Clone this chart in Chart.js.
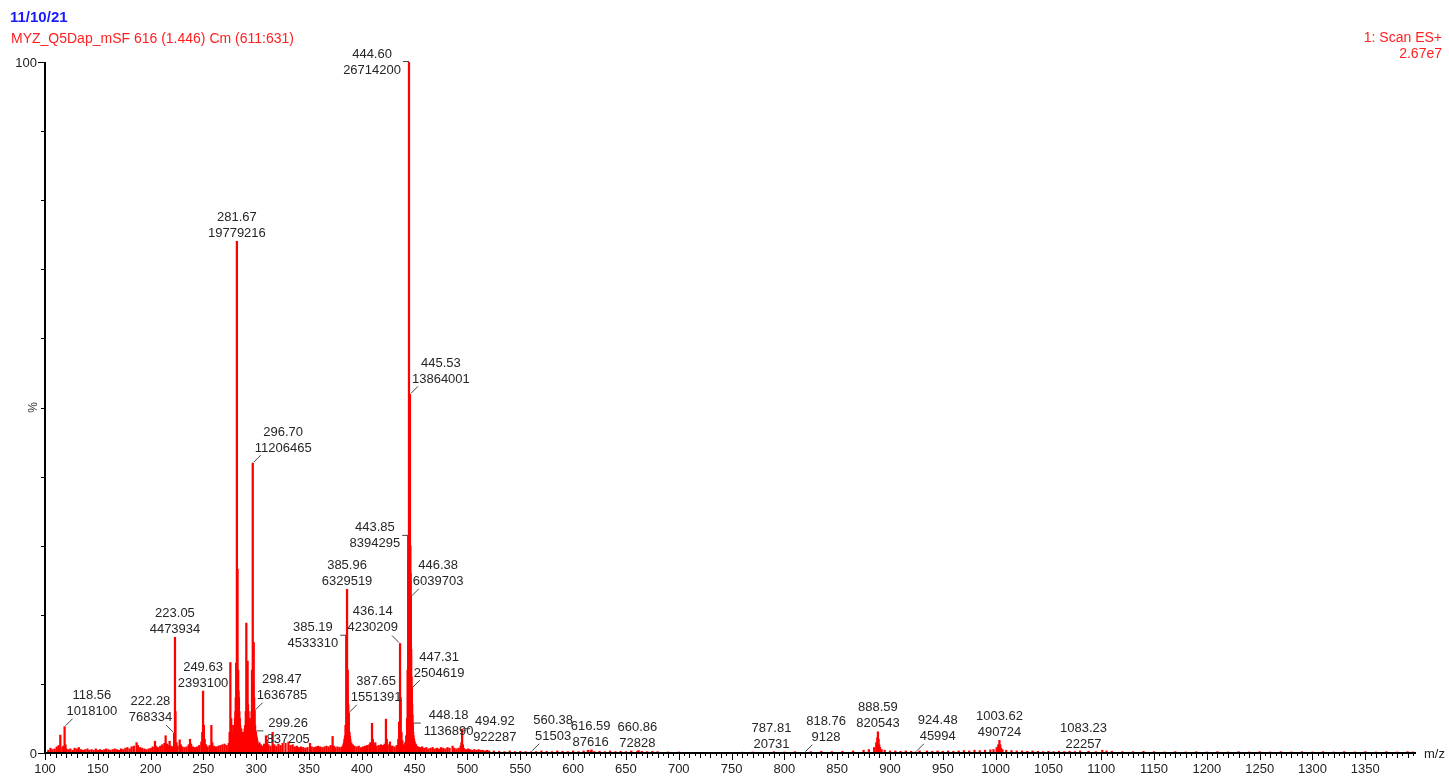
<!DOCTYPE html>
<html>
<head>
<meta charset="utf-8">
<script src="https://cdn.jsdelivr.net/npm/chart.js@4.4.0/dist/chart.umd.min.js"></script>
<style>
  html,body{margin:0;padding:0;background:#fff}
  #wrap{width:1449px;height:778px;position:relative}
</style>
</head>
<body>
<div id="wrap"><canvas id="spec"></canvas></div>
<script>
// ─── DATA ───────────────────────────────────────────────────────────
// m/z of each stick and its relative intensity (% of base peak 444.60)
const peakMz = [
  103.1,105.2,107.0,109.1,111.1,113.0,114.5,116.5,117.3,118.56,
  119.4,120.3,122.1,124.0,126.1,128.0,130.1,132.0,134.1,136.0,
  138.1,140.2,142.0,144.1,146.0,148.1,150.0,152.1,154.0,156.1,
  158.0,160.1,162.0,164.1,166.0,168.1,170.0,172.1,174.0,176.1,
  178.0,180.1,182.0,184.1,186.7,188.0,190.1,192.0,194.1,196.0,
  198.1,200.1,202.0,204.1,205.2,207.0,209.1,211.0,213.0,214.2,
  215.5,217.0,218.0,219.5,220.7,222.28,223.05,223.5,224.5,225.5,
  227.5,228.6,230.0,232.0,234.0,236.0,237.3,238.3,240.0,242.0,
  244.0,246.0,248.0,248.9,249.63,250.4,251.2,252.5,254.0,256.0,
  257.5,258.4,260.0,262.0,264.0,266.0,268.0,270.0,272.0,274.0,
  275.5,276.3,277.2,278.5,279.5,280.3,281.0,281.67,282.3,282.9,
  283.6,284.4,285.3,286.2,287.0,288.5,289.5,290.6,291.8,292.6,
  293.4,294.3,295.2,296.0,296.70,297.6,298.47,299.26,300.1,301.0,
  302.0,303.0,304.5,306.0,307.5,309.2,310.2,311.5,313.5,315.5,
  317.0,319.0,321.0,323.0,325.0,327.7,330.5,332.5,334.5,336.5,
  338.5,340.5,342.5,344.5,346.5,348.5,350.9,352.5,354.5,356.5,
  358.5,360.5,362.5,364.5,366.5,368.5,370.5,372.3,373.5,375.0,
  377.0,379.0,381.0,382.5,383.5,384.5,385.19,385.96,386.6,387.1,
  387.65,388.3,389.0,390.0,391.5,393.0,395.0,397.0,399.0,401.0,
  403.0,405.0,407.0,408.0,409.6,410.4,411.5,412.7,414.0,416.0,
  418.0,420.0,421.5,422.8,423.6,424.5,426.6,427.5,429.0,431.0,
  433.0,434.5,435.3,436.14,436.8,437.5,438.3,439.5,441.0,442.0,
  442.8,443.3,443.85,444.2,444.60,444.9,445.2,445.53,445.9,446.1,
  446.38,446.7,447.0,447.31,447.6,447.9,448.18,448.5,448.9,449.4,
  450.0,451.0,452.0,453.5,455.0,457.0,459.0,461.0,463.0,465.0,
  467.0,469.0,471.0,473.0,475.0,477.0,479.0,481.0,483.0,485.9,
  487.5,489.5,491.5,493.5,494.2,494.92,495.6,496.5,498.5,500.5,
  502.5,504.5,506.5,508.5,510.5,512.5,514.5,516.5,518.5,520.5,
  525,530,535,540,545,550,555,560.38,565,570,
  575,580,585,590,595,600,605,610,614,616.59,
  617.5,620,625,630,635,640,645,650,655,660.86,
  662,665,670,675,680,690,700,710,720,740,
  760,770,787.81,790,800,810,818.76,825,835,845,
  855,865,875,880,885,887,888.0,888.59,889.2,889.8,
  890.5,892,895,900,905,910,915,920,924.48,928,
  935,940,945,950,955,960,965,970,975,980,
  985,990,995,998,1001,1002.5,1003.62,1004.4,1005.2,1006.5,
  1010,1015,1020,1025,1030,1035,1040,1045,1050,1055,
  1060,1065,1070,1075,1080,1083.23,1088,1095,1101,1105,
  1110,1120,1130,1140,1150,1160,1170,1180,1190,1200,
  1210,1220,1230,1240,1250,1260,1270,1280,1290,1300,
  1310,1320,1330,1340,1350,1360,1370,1380,1390,1395,
  274.8,276.8,277.8,278.9,279.9,280.6,283.2,284.0,284.8,285.8,
  286.6,287.6,288.0,289.0,290.1,291.2,292.2,293.0,293.8,294.8,
  295.6,297.1,298.0,298.9,299.7,300.6,383.0,384.0,386.2,388.7
];
const peakPct = [
  0.4,0.7,0.5,0.6,0.9,1.1,2.6,0.8,1.0,3.81,
  1.2,0.6,0.5,0.6,0.4,0.7,0.6,0.8,0.5,0.4,
  0.5,0.6,0.4,0.5,0.4,0.6,0.4,0.5,0.4,0.5,
  0.6,0.5,0.4,0.5,0.6,0.5,0.4,0.6,0.5,0.7,
  0.8,0.6,0.9,1.0,1.5,1.1,0.8,0.7,0.6,0.5,
  0.6,0.7,0.9,1.7,1.0,0.8,1.0,1.2,1.4,2.5,
  1.3,1.1,1.7,1.0,0.9,2.88,16.75,6.0,1.5,1.0,
  1.9,1.2,0.9,0.8,0.9,1.2,2.0,1.3,0.9,0.8,
  0.9,1.1,1.6,3.0,8.96,4.0,2.0,1.2,0.9,1.1,
  4.0,1.5,1.0,0.9,1.0,1.1,1.2,1.3,1.1,1.4,
  13.1,5.0,2.5,2.0,3.5,6.0,13.0,74.04,26.6,12.0,
  8.0,5.0,3.0,2.0,1.5,2.5,4.0,18.8,13.3,6.0,
  4.0,3.0,5.0,12.0,41.95,16.0,6.13,3.13,2.5,1.8,
  1.3,1.5,1.2,1.0,1.3,2.5,1.5,1.2,1.0,3.0,
  1.2,1.0,1.3,1.1,1.4,1.4,1.6,1.1,1.2,0.9,
  1.0,0.8,0.9,0.8,0.7,0.8,1.4,0.9,0.8,0.9,
  1.0,0.9,0.8,0.9,1.0,0.9,1.1,2.4,1.0,0.8,
  0.9,0.8,0.9,1.2,2.0,4.0,16.97,23.69,12.0,7.0,
  5.81,3.0,2.0,1.5,1.2,1.0,0.9,1.0,0.8,0.9,
  1.0,1.1,1.2,1.5,4.3,2.0,1.2,1.5,1.0,1.1,
  1.2,1.1,1.3,4.9,2.0,1.2,1.6,1.0,1.0,0.9,
  1.1,2.0,4.5,15.84,8.0,3.0,1.8,1.2,1.5,2.5,
  5.0,12.0,31.42,28.0,100,48.0,47.0,51.90,30.0,26.0,
  22.61,15.0,11.0,9.38,7.0,5.5,4.26,3.0,2.5,2.0,
  1.6,1.3,1.0,0.9,0.8,0.9,0.7,0.8,0.6,0.7,
  0.8,0.6,0.7,0.6,0.8,0.7,0.6,0.8,0.7,1.0,
  0.7,0.6,0.7,1.0,1.5,3.45,1.2,0.7,0.5,0.6,
  0.5,0.4,0.5,0.4,0.5,0.4,0.4,0.3,0.4,0.3,
  0.3,0.25,0.2,0.3,0.2,0.25,0.2,0.19,0.2,0.3,
  0.25,0.2,0.3,0.25,0.2,0.3,0.2,0.3,0.4,0.33,
  0.45,0.2,0.25,0.2,0.3,0.2,0.25,0.2,0.3,0.27,
  0.35,0.25,0.2,0.25,0.2,0.15,0.15,0.1,0.1,0.1,
  0.12,0.15,0.08,0.2,0.15,0.2,0.03,0.2,0.25,0.2,
  0.25,0.3,0.4,0.5,0.8,1.5,2.2,3.07,2.0,1.2,
  0.8,0.5,0.4,0.3,0.3,0.25,0.3,0.25,0.17,0.3,
  0.3,0.25,0.3,0.25,0.3,0.25,0.3,0.35,0.3,0.4,
  0.35,0.4,0.45,0.5,0.8,1.2,1.84,1.2,0.7,0.5,
  0.4,0.35,0.3,0.3,0.25,0.3,0.25,0.2,0.25,0.2,
  0.25,0.2,0.25,0.2,0.3,0.08,0.25,0.2,0.4,0.3,
  0.25,0.2,0.2,0.25,0.2,0.15,0.2,0.15,0.2,0.15,
  0.2,0.15,0.2,0.15,0.2,0.15,0.2,0.15,0.2,0.15,
  0.2,0.15,0.2,0.15,0.2,0.15,0.2,0.15,0.2,0.15,
  3.0,4.0,3.0,4.0,5.0,8.0,9.0,6.0,4.0,3.5,
  3.0,2.5,3.0,3.5,6.0,8.0,7.0,5.0,3.5,4.0,
  6.0,10.0,8.0,4.0,3.0,2.2,1.5,2.5,9.0,2.4
];

// annotated peaks: m/z, absolute counts, label placement
const labelMz = [444.60,281.67,445.53,296.70,443.85,385.96,446.38,385.19,223.05,436.14,
  447.31,249.63,298.47,387.65,448.18,118.56,494.92,299.26,888.59,222.28,
  1003.62,616.59,660.86,560.38,924.48,1083.23,787.81,818.76];
const labelCounts = [26714200,19779216,13864001,11206465,8394295,6329519,6039703,4533310,4473934,4230209,
  2504619,2393100,1636785,1551391,1136890,1018100,922287,837205,820543,768334,
  490724,87616,72828,51503,45994,22257,20731,9128];
const labelPlace = ['h','top','d','d','h','top','d','h','top','dl',
  'd','top','d','d','hr','d','hr','hr','top','dl',
  'top','top','top','d','d','top','top','d'];

const xTickLabels = [100,150,200,250,300,350,400,450,500,550,600,650,700,750,800,850,900,950,1000,1050,1100,1150,1200,1250,1300,1350];
const yTickLabels = [0,100];

const FONT = '"Liberation Sans", Arial, sans-serif';

// ─── PLUGINS ────────────────────────────────────────────────────────
const axesPlugin = {
  id:'axes',
  afterDatasetsDraw(c){
    const {ctx, chartArea:a, scales:{x,y}} = c;
    ctx.save();
    ctx.strokeStyle='#000';
    ctx.lineWidth=2;
    ctx.beginPath();
    ctx.moveTo(a.left, a.top);
    ctx.lineTo(a.left, a.bottom);
    ctx.lineTo(a.right, a.bottom);
    ctx.stroke();
    ctx.lineWidth=1;
    ctx.beginPath();
    for(let v=100; v<=x.max; v+=5){
      const px=Math.round(x.getPixelForValue(v))+0.5;
      const len = v%50===0 ? 7 : (v%10===0 ? 5 : 3);
      ctx.moveTo(px, a.bottom); ctx.lineTo(px, a.bottom+len);
    }
    for(let v=0; v<=100; v+=10){
      const py=Math.round(y.getPixelForValue(v))+0.5;
      const len = (v===0||v===100) ? 7 : 4;
      ctx.moveTo(a.left-len, py); ctx.lineTo(a.left, py);
    }
    ctx.stroke();
    // tick labels
    ctx.fillStyle='#222';
    ctx.font='13px '+FONT;
    ctx.textAlign='center'; ctx.textBaseline='middle';
    xTickLabels.forEach(v=>ctx.fillText(String(v), x.getPixelForValue(v), a.bottom+16));
    ctx.textAlign='right';
    yTickLabels.forEach(v=>ctx.fillText(String(v), a.left-8, y.getPixelForValue(v)+1));
    ctx.textAlign='left';
    ctx.fillText('m/z', a.right+8, a.bottom+1);
    // y title
    ctx.fillStyle='#333';
    ctx.font='12px '+FONT;
    ctx.translate(34, (a.top+a.bottom)/2);
    ctx.rotate(-Math.PI/2);
    ctx.textAlign='center';
    ctx.fillText('%',0,0);
    ctx.restore();
  }
};

const peakLabels = {
  id:'peakLabels',
  afterDraw(c){
    const {ctx, scales:{x,y}} = c;
    ctx.save();
    ctx.font='13px '+FONT;
    ctx.fillStyle='#262626';
    ctx.strokeStyle='#444';
    ctx.lineWidth=1;
    ctx.textAlign='center';
    ctx.textBaseline='middle';
    labelMz.forEach((m,i)=>{
      const p = peakPct[peakMz.indexOf(m)];
      const px = x.getPixelForValue(m), py = y.getPixelForValue(p);
      const l1 = m.toFixed(2), l2 = String(labelCounts[i]);
      const w = Math.max(ctx.measureText(l1).width, ctx.measureText(l2).width);
      let cx, y1, y2, seg=null;
      switch(labelPlace[i]){
        case 'd':  cx=px+2+w/2; y2=py-15; y1=y2-16; seg=[px+1,py-1,px+8,py-8]; break;
        case 'dl': cx=px-2-w/2; y2=py-16; y1=y2-16; seg=[px-1,py-1,px-8,py-8]; break;
        case 'h':  cx=px-8-w/2; y1=py-8; y2=py+8; seg=[px-6,py-0.5,px,py-0.5]; break;
        case 'hr': cx=px+11+w/2; y1=py-8; y2=py+8; seg=[px+1,py-0.5,px+8,py-0.5]; break;
        default:   cx=px; y2=py-8; y1=y2-16;
      }
      if(seg){
        ctx.beginPath(); ctx.moveTo(seg[0],seg[1]); ctx.lineTo(seg[2],seg[3]); ctx.stroke();
      }
      ctx.fillText(l1, cx, y1);
      ctx.fillText(l2, cx, y2);
    });
    ctx.restore();
  }
};

const header = {
  id:'header',
  afterDraw(c){
    const ctx=c.ctx;
    ctx.save();
    ctx.textBaseline='middle';
    ctx.textAlign='left';
    ctx.fillStyle='#1a1aff';
    ctx.font='bold 15px '+FONT;
    ctx.fillText('11/10/21', 10, 18);
    ctx.fillStyle='#ff2020';
    ctx.font='14px '+FONT;
    ctx.fillText('MYZ_Q5Dap_mSF 616 (1.446) Cm (611:631)', 11, 39);
    ctx.textAlign='right';
    ctx.fillText('1: Scan ES+', 1442, 38);
    ctx.fillText('2.67e7', 1442, 54);
    ctx.restore();
  }
};

// ─── CHART ──────────────────────────────────────────────────────────
new Chart(document.getElementById('spec'),{
  type:'bar',
  data:{datasets:[{
    data:peakMz.map((m,i)=>({x:m,y:peakPct[i]})),
    backgroundColor:'#ff0000',
    borderWidth:0,
    barThickness:1.6,
    grouped:false
  }]},
  options:{
    responsive:true,maintainAspectRatio:false,animation:false,
    layout:{padding:{left:0,top:62,right:33,bottom:0}},
    plugins:{legend:{display:false},tooltip:{enabled:false}},
    scales:{
      x:{type:'linear',min:100,max:1398,offset:false,
        grid:{display:false,drawTicks:false,offset:false},border:{display:false},
        ticks:{display:false},
        afterFit:s=>{s.height=25;}},
      y:{min:0,max:100,
        grid:{display:false,drawTicks:false},border:{display:false},
        ticks:{display:false},
        afterFit:s=>{s.width=45;}}
    }
  },
  plugins:[axesPlugin,peakLabels,header]
});
</script>
</body>
</html>
